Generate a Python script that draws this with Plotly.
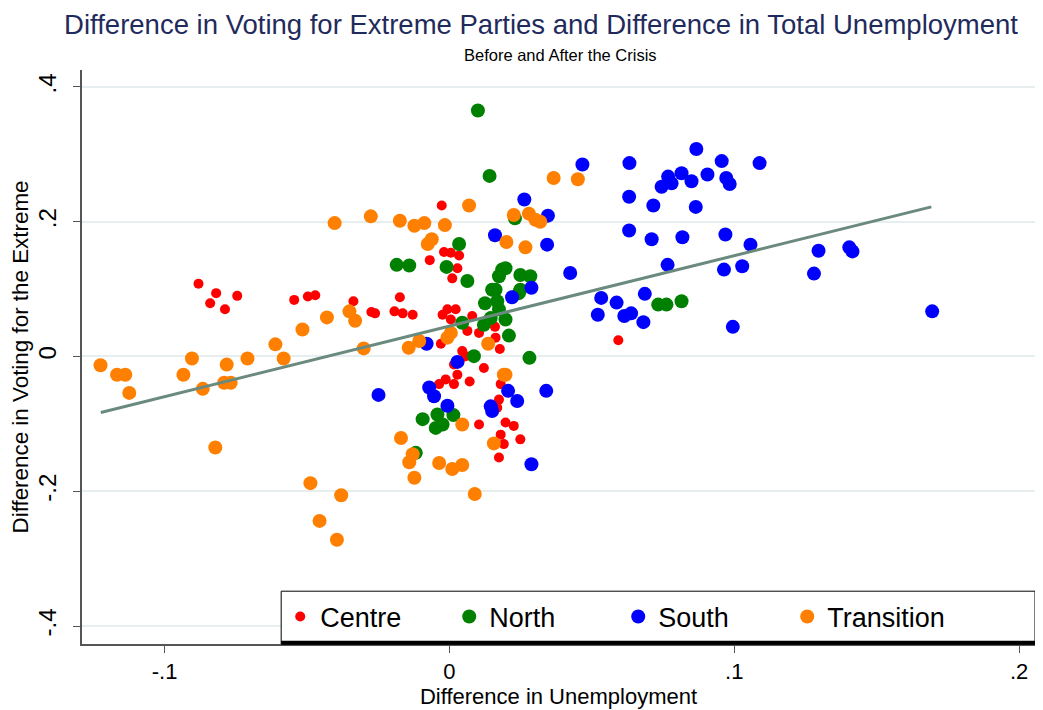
import plotly.graph_objects as go

# data
centre_x = [-0.0881, -0.0819, -0.0840, -0.0788, -0.0745, -0.0545, -0.0497, -0.0471, -0.0337,
            -0.0274, -0.0261, -0.0193, -0.0164, -0.0129, -0.0174, -0.0069, -0.0019, 0.0005,
            0.0034, -0.0027, -0.0024, 0.0028, 0.0010, -0.0007, 0.0022, 0.0005, 0.0080,
            0.0104, 0.0063, -0.0030, 0.0160, 0.0162, 0.0177, 0.0045, 0.0057, 0.0121,
            0.0036, 0.0016, -0.0013, 0.0016, 0.0028, -0.0036, 0.0071, 0.0180, 0.0174,
            0.0168, 0.0104, 0.0197, 0.0226, 0.0180, 0.0191, 0.0249, 0.0174, 0.0593]
centre_y = [0.108, 0.094, 0.079, 0.070, 0.090, 0.084, 0.089, 0.091, 0.082,
            0.066, 0.064, 0.067, 0.064, 0.062, 0.088, 0.143, 0.155, 0.154,
            0.150, 0.224, 0.062, 0.131, 0.116, 0.070, 0.070, 0.055, 0.060,
            0.035, 0.038, 0.019, 0.044, 0.028, 0.011, 0.008, 0.0005, -0.017,
            -0.007, -0.012, -0.034, -0.041, -0.027, -0.041, -0.037, -0.041, -0.064,
            -0.076, -0.101, -0.098, -0.103, -0.116, -0.130, -0.123, -0.150, 0.024]

north_x = [0.0100, 0.0141, 0.0230, 0.0034, -0.0185, -0.0141, -0.0010, 0.0063, 0.0185,
           0.0197, 0.0174, 0.0249, 0.0284, 0.0162, 0.0249, 0.0125, 0.0168, 0.0174,
           0.0145, 0.0197, 0.0121, 0.0045, 0.0209, 0.0086, 0.0281, -0.0094, -0.0042,
           -0.0048, -0.0024, 0.0014, -0.0118, 0.0733, 0.0762, 0.0815, 0.0150, 0.0244]
north_y = [0.365, 0.268, 0.205, 0.167, 0.136, 0.135, 0.133, 0.112, 0.129,
           0.131, 0.119, 0.121, 0.119, 0.099, 0.099, 0.079, 0.082, 0.070,
           0.057, 0.055, 0.047, 0.050, 0.031, 0.0005, -0.002, -0.093, -0.086,
           -0.106, -0.101, -0.087, -0.143, 0.077, 0.077, 0.082, 0.099, 0.094]

south_x = [-0.0249, 0.0467, 0.0263, 0.0346, 0.0160, 0.0343, 0.0424, 0.0288, 0.0220,
           -0.0080, 0.0028, -0.0071, -0.0054, -0.0007, 0.0145, 0.0150, 0.0206, 0.0238,
           0.0340, 0.0288, 0.0632, 0.0867, 0.0956, 0.1089, 0.0768, 0.0745, 0.0780,
           0.0815, 0.0850, 0.0906, 0.0972, 0.0984, 0.0631, 0.0716, 0.0865, 0.0631,
           0.0710, 0.0818, 0.0969, 0.1057, 0.1296, 0.1404, 0.1415, 0.0766, 0.0964,
           0.1028, 0.1280, 0.0533, 0.0521, 0.0587, 0.0686, 0.0614, 0.0638, 0.0681,
           0.0995, 0.1695]
south_y = [-0.057, 0.285, 0.233, 0.209, 0.180, 0.166, 0.124, 0.102, 0.088,
           0.019, -0.008, -0.046, -0.059, -0.073, -0.074, -0.081, -0.051, -0.066,
           -0.051, -0.160, 0.287, 0.308, 0.290, 0.287, 0.267, 0.252, 0.257,
           0.272, 0.260, 0.270, 0.265, 0.256, 0.237, 0.224, 0.222, 0.187,
           0.174, 0.177, 0.181, 0.166, 0.157, 0.162, 0.156, 0.136, 0.129,
           0.134, 0.123, 0.087, 0.062, 0.080, 0.093, 0.060, 0.064, 0.051,
           0.044, 0.067]

transition_x = [-0.1225, -0.1167, -0.1138, -0.1124, -0.0934, -0.0904, -0.0866, -0.0782, -0.0791,
                -0.0768, -0.0709, -0.0611, -0.0582, -0.0516, -0.0430, -0.0351, -0.0331, -0.0301,
                -0.0403, -0.0276, -0.0822, -0.0174, -0.0123, -0.0088, -0.0016, -0.0062, -0.0076,
                -0.0143, -0.0106, 0.0069, 0.0366, 0.0451, 0.0226, 0.0279, 0.0302, 0.0319,
                0.0200, 0.0267, -0.0007, 0.0005, 0.0136, 0.0191, 0.0197, 0.0045, -0.0170,
                -0.0129, -0.0141, -0.0036, 0.0010, 0.0045, 0.0156, -0.0123, -0.0488, -0.0380,
                -0.0456, -0.0395, 0.0089]
transition_y = [-0.013, -0.027, -0.027, -0.054, -0.027, -0.003, -0.048, -0.012, -0.039,
                -0.039, -0.003, 0.018, -0.003, 0.040, 0.058, 0.067, 0.053, 0.012,
                0.198, 0.208, -0.135, 0.2015, 0.194, 0.198, 0.195, 0.174, 0.167,
                0.013, 0.023, 0.224, 0.265, 0.263, 0.210, 0.212, 0.203, 0.200,
                0.170, 0.162, 0.028, 0.035, 0.019, -0.027, -0.027, -0.101, -0.121,
                -0.145, -0.157, -0.158, -0.167, -0.161, -0.129, -0.180, -0.188, -0.206,
                -0.244, -0.272, -0.204]

# fitted line end points
fit_x = [-0.1224, 0.1692]
fit_y = [-0.083, 0.222]

x_ticks = [-0.1, 0, 0.1, 0.2]
x_labels = ["-.1", "0", ".1", ".2"]
y_ticks = [0.4, 0.2, 0, -0.2, -0.4]
y_labels = [".4", ".2", "0", "-.2", "-.4"]

FONT = "Liberation Sans, Arial, sans-serif"

fig = go.Figure()
groups = [
    ("Centre", centre_x, centre_y, "#ff0000", 10),
    ("North", north_x, north_y, "#008000", 14),
    ("South", south_x, south_y, "#0000ff", 14),
    ("Transition", transition_x, transition_y, "#ff8000", 14),
]
for name, xs, ys, col, sz in groups:
    fig.add_trace(go.Scatter(
        x=xs, y=ys, mode="markers", name=name,
        marker=dict(color=col, size=sz, line=dict(width=0)),
    ))

fig.add_trace(go.Scatter(
    x=fit_x, y=fit_y, mode="lines", showlegend=False,
    line=dict(color="#6b8a7e", width=3),
))

# page has an 8px body margin, so the figure is 1035x702
fig.update_layout(
    width=1035, height=702,
    paper_bgcolor="white", plot_bgcolor="white",
    font=dict(family=FONT, color="black"),
    margin=dict(l=70, r=8, t=62, b=65),
    title=dict(
        text="Difference in Voting for Extreme Parties and Difference in Total Unemployment",
        font=dict(size=27.5, color="#1f2b5c"),
        x=0.515, xanchor="center", y=0.976, yanchor="middle", xref="container",
    ),
    legend=dict(
        orientation="h", x=0.208, xanchor="left", y=0.047, yanchor="middle",
        font=dict(size=27, color="black"), bgcolor="rgba(0,0,0,0)",
        entrywidth=124, entrywidthmode="pixels", itemsizing="trace",
    ),
    shapes=[
        dict(type="rect", xref="paper", yref="paper", x0=0.209, x1=1.0, y0=0.0, y1=0.092,
             line=dict(color="black", width=1), fillcolor="white", layer="above"),
        dict(type="line", xref="paper", yref="paper", x0=0.209, x1=1.0, y0=0.002, y1=0.002,
             line=dict(color="black", width=4), layer="above"),
    ],
    annotations=[
        dict(text="Before and After the Crisis", xref="paper", yref="paper",
             x=0.5016, y=1.026, xanchor="center", yanchor="middle", showarrow=False,
             font=dict(size=16.5, color="black")),
    ],
)

fig.update_xaxes(
    range=[-0.129, 0.2056], tickvals=x_ticks, ticktext=x_labels,
    showgrid=False, zeroline=False, showline=True, linecolor="#555555", linewidth=1.5,
    ticks="outside", ticklen=7, tickcolor="#555555", tickfont=dict(size=22),
    title=dict(text="Difference in Unemployment", font=dict(size=22), standoff=2),
)
fig.update_yaxes(
    range=[-0.4267, 0.4252], tickvals=y_ticks, ticktext=y_labels, tickangle=-90,
    showgrid=True, gridcolor="#e6eef0", gridwidth=1.5, zeroline=False,
    showline=True, linecolor="#555555", linewidth=1.5,
    ticks="outside", ticklen=7, tickcolor="#555555", tickfont=dict(size=24),
    ticklabelstandoff=8,
    title=dict(text="Difference in Voting for the Extreme", font=dict(size=22.4), standoff=2),
)

fig.write_html("out.html")
